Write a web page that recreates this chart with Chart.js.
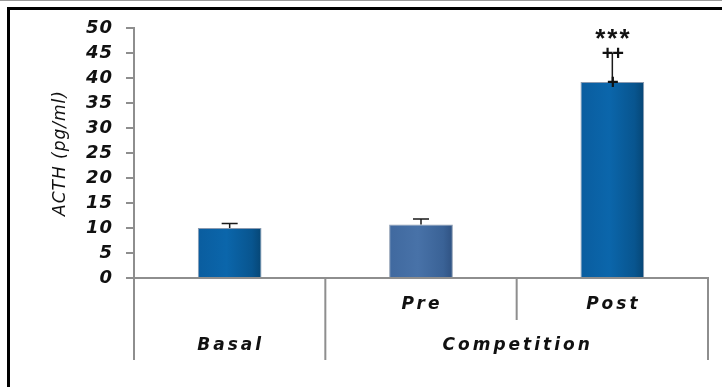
<!DOCTYPE html>
<html>
<head>
<meta charset="utf-8">
<script src="https://cdn.jsdelivr.net/npm/chart.js@4"></script>
<style>
  html, body { margin: 0; padding: 0; background: #fff; }
  #wrap { position: relative; width: 722px; height: 387px; overflow: hidden; }
  #topline { position: absolute; left: 0; top: 0; width: 722px; height: 1px; background: #9a9a9a; }
  #frame { position: absolute; left: 7px; top: 7px; width: 730px; height: 400px;
           border-top: 3px solid #000; border-left: 3px solid #000; }
  canvas { position: absolute; left: 0; top: 0; }
</style>
</head>
<body>
<div id="wrap">
  <div id="topline"></div>
  <div id="frame"></div>
  <canvas id="acth" width="722" height="387"></canvas>
</div>
<script>
// ACTH by condition, mean and SEM
const groups = ["Basal", "Pre", "Post"];
const acthMean = [10, 10.7, 39.2];
const acthSem = [0.9, 1.1, 5.8];
const yTicks = [0, 5, 10, 15, 20, 25, 30, 35, 40, 45, 50];
const stars = ["", "", "***"];
const plusMarks = ["", "", "++"];
const competitionGroups = ["Pre", "Post"];

// left edge, centre, shoulder, right edge
const fillColors = [
    ["#0a5d9f", "#0b66ab", "#08558f", "#064675"],
    ["#40699f", "#4872a8", "#3a6296", "#2f5282"],
    ["#0a5d9f", "#0b66ab", "#08558f", "#064675"]
];

const font = "'DejaVu Sans', Verdana, sans-serif";
const plainFont = "'Liberation Sans', Arial, sans-serif";
const axisGrey = "#8e8e8e";

function barFill(c) {
    const chart = c.chart;
    const xs = chart.scales.x;
    const cols = fillColors[c.dataIndex];
    if (!xs || xs.width === undefined) return cols[1];
    const cx = xs.getPixelForValue(c.dataIndex);
    const half = (xs.getPixelForValue(1) - xs.getPixelForValue(0)) * 0.333 / 2;
    const g = chart.ctx.createLinearGradient(cx - half, 0, cx + half, 0);
    g.addColorStop(0, cols[0]);
    g.addColorStop(0.45, cols[1]);
    g.addColorStop(0.85, cols[2]);
    g.addColorStop(1, cols[3]);
    return g;
}

// slightly tracked text for the axis
const spacing = {
    id: "spacing",
    beforeDraw(chart) { chart.ctx.letterSpacing = "1px"; }
};

const extras = {
    id: "extras",
    afterDatasetsDraw(chart) {
        const ctx = chart.ctx;
        const ys = chart.scales.y;
        const meta = chart.getDatasetMeta(0);
        ctx.save();
        ctx.letterSpacing = "0px";
        ctx.strokeStyle = "#1a1a1a";
        ctx.lineWidth = 1.5;
        meta.data.forEach((bar, i) => {
            const yTop = ys.getPixelForValue(acthMean[i] + acthSem[i]);
            const yMean = ys.getPixelForValue(acthMean[i]);
            ctx.beginPath();
            ctx.moveTo(bar.x, yMean);
            ctx.lineTo(bar.x, yTop);
            if (!plusMarks[i]) {
                ctx.moveTo(bar.x - 8, yTop);
                ctx.lineTo(bar.x + 8, yTop);
            }
            ctx.stroke();
            ctx.fillStyle = "#111";
            ctx.textAlign = "center";
            if (plusMarks[i]) {
                ctx.textBaseline = "middle";
                ctx.font = "bold 20px " + plainFont;
                ctx.letterSpacing = "-1px";
                ctx.fillText(plusMarks[i], bar.x, yTop + 1);
                ctx.fillText("+", bar.x, yMean + 1);
                ctx.letterSpacing = "0px";
            }
            if (stars[i]) {
                ctx.textBaseline = "alphabetic";
                ctx.font = "bold 26px " + plainFont;
                ctx.letterSpacing = "2px";
                ctx.fillText(stars[i], bar.x + 1, yTop - 6);
                ctx.letterSpacing = "0px";
            }
        });
        ctx.restore();
    },
    afterDraw(chart) {
        const ctx = chart.ctx;
        const xs = chart.scales.x;
        const area = chart.chartArea;
        const step = xs.getPixelForValue(1) - xs.getPixelForValue(0);
        const edge = i => xs.getPixelForValue(i) - step / 2;
        const lower = 360, mid = 320;
        ctx.save();
        ctx.strokeStyle = axisGrey;
        ctx.lineWidth = 2;
        ctx.beginPath();
        // group separators below the axis
        ctx.moveTo(area.left, area.bottom); ctx.lineTo(area.left, lower);
        ctx.moveTo(edge(1), area.bottom); ctx.lineTo(edge(1), lower);
        ctx.moveTo(edge(2), area.bottom); ctx.lineTo(edge(2), mid);
        ctx.moveTo(edge(3), area.bottom); ctx.lineTo(edge(3), lower);
        ctx.stroke();

        ctx.fillStyle = "#111";
        ctx.font = "italic bold 17px " + font;
        ctx.letterSpacing = "3px";
        ctx.textAlign = "center";
        ctx.textBaseline = "middle";
        competitionGroups.forEach(name => {
            const i = groups.indexOf(name);
            ctx.fillText(name, xs.getPixelForValue(i) + 1, 305);
        });
        ctx.fillText(groups[0], xs.getPixelForValue(0) + 1, 346);
        ctx.fillText("Competition", (edge(1) + edge(3)) / 2 + 1, 346);
        ctx.restore();
    }
};

const ctx = document.getElementById("acth");

new Chart(ctx, {
    type: "bar",
    data: {
        labels: groups,
        datasets: [{
            label: "ACTH",
            data: acthMean,
            backgroundColor: barFill,
            borderColor: "#8a9ab0",
            borderWidth: 1,
            barPercentage: 0.333,
            categoryPercentage: 1
        }]
    },
    options: {
        responsive: false,
        animation: false,
        events: [],
        layout: { padding: { top: 28, right: 14, bottom: 109, left: 0 } },
        plugins: { legend: { display: false }, tooltip: { enabled: false } },
        scales: {
            x: {
                offset: true,
                grid: { display: false },
                ticks: { display: false },
                border: { color: axisGrey, width: 2 },
                afterFit(scale) { scale.height = 0; }
            },
            y: {
                min: 0,
                max: 50,
                afterBuildTicks(scale) { scale.ticks = yTicks.map(v => ({ value: v })); },
                afterFit(scale) { scale.width = 134; },
                ticks: {
                    color: "#111",
                    padding: 13,
                    autoSkip: false,
                    font: { family: font, size: 18, style: "italic", weight: "bold" }
                },
                grid: { drawOnChartArea: false, tickLength: 8, color: axisGrey, lineWidth: 2 },
                border: { color: axisGrey, width: 2 },
                title: {
                    display: true,
                    text: "ACTH (pg/ml)",
                    color: "#111",
                    padding: { top: 50, bottom: 0 },
                    font: { family: font, size: 17, style: "italic" }
                }
            }
        }
    },
    plugins: [spacing, extras]
});
</script>
</body>
</html>
